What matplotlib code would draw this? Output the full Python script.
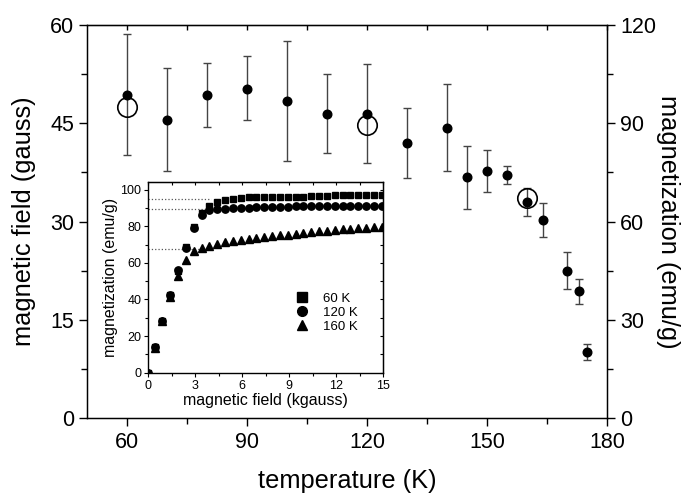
import matplotlib
matplotlib.use('Agg')
import matplotlib.pyplot as plt
from matplotlib.ticker import MultipleLocator
from matplotlib.lines import Line2D

plt.rcParams['font.family'] = ['Liberation Sans', 'DejaVu Sans']

# main panel: field vs temperature (mean, upper and lower bound of error bar)
temps = [60, 70, 80, 90, 100, 110, 120, 130, 140, 145, 150, 155, 160, 164, 170, 173, 175]
field = [49.3, 45.5, 49.3, 50.3, 48.4, 46.4, 46.4, 42.0, 44.3, 36.8, 37.8, 37.1, 33.0, 30.3, 22.5, 19.4, 10.1]
field_hi = [58.7, 53.4, 54.2, 55.2, 57.6, 52.6, 54.0, 47.4, 51.0, 41.6, 41.0, 38.5, 35.2, 32.9, 25.3, 21.3, 11.3]
field_lo = [40.1, 37.7, 44.5, 45.5, 39.3, 40.5, 38.9, 36.6, 37.7, 31.9, 34.5, 35.8, 30.8, 27.7, 19.8, 17.5, 8.9]

# saturation magnetization (right axis, open circles)
sat_temps = [60, 120, 160]
sat_mag = [95.0, 89.5, 67.3]

# inset: magnetization curves
h_field = [0, 0.4, 0.9, 1.4, 1.9, 2.4, 2.9, 3.4, 3.9, 4.4, 4.9, 5.4, 5.9, 6.4, 6.9, 7.4,
           7.9, 8.4, 8.9, 9.4, 9.9, 10.4, 10.9, 11.4, 11.9, 12.4, 12.9, 13.4, 13.9, 14.4, 14.9]
m_60 = [0, 14, 28, 42.5, 55.5, 68.5, 79.5, 87.5, 91.0, 93.3, 94.2, 95.1, 95.5, 95.8, 96.0, 96.0,
        96.0, 96.0, 96.0, 96.2, 96.2, 96.3, 96.3, 96.5, 97.0, 97.0, 97.0, 97.0, 97.0, 97.0, 97.0]
m_120 = [0, 14, 28, 42.3, 56.0, 68.2, 79.0, 86.2, 88.7, 89.5, 89.5, 89.7, 90.0, 90.2, 90.3, 90.4,
         90.5, 90.5, 90.6, 91.2, 91.0, 90.8, 90.8, 90.8, 90.8, 90.8, 90.8, 90.8, 90.8, 90.8, 90.8]
m_160 = [0, 13.5, 28, 41.5, 53.0, 61.8, 66.3, 68.3, 69.4, 70.5, 71.5, 72.2, 72.5, 73.1, 73.6, 74.0,
         74.5, 75.0, 75.4, 75.8, 76.3, 76.7, 77.2, 77.6, 78.0, 78.3, 78.6, 78.9, 79.2, 79.5, 79.6]
# extrapolation lines (end field, level)
extrap_end = [4.0, 3.6, 3.4]
labels = ['60 K', '120 K', '160 K']

fig = plt.figure(figsize=(6.84, 4.93), dpi=100)
ax = fig.add_axes([0.1277, 0.1515, 0.7597, 0.7978])

lo_err = [f - l for f, l in zip(field, field_lo)]
hi_err = [h - f for f, h in zip(field, field_hi)]
ax.errorbar(temps, field, yerr=[lo_err, hi_err], fmt='o', color='black', ms=6.2,
            ecolor='#444444', elinewidth=1.0, capsize=3, capthick=1.0)

ax.set_xlim(50, 180)
ax.set_ylim(0, 60)
ax.xaxis.set_major_locator(MultipleLocator(30))
ax.xaxis.set_minor_locator(MultipleLocator(15))
ax.yaxis.set_major_locator(MultipleLocator(15))
ax.yaxis.set_minor_locator(MultipleLocator(7.5))
ax.tick_params(which='both', direction='out', width=1, labelsize=15.5)
ax.tick_params(which='major', length=6)
ax.tick_params(which='minor', length=4.5)
ax.set_xlabel('temperature (K)', fontsize=18.3, labelpad=12)
ax.set_ylabel('magnetic field (gauss)', fontsize=18.3, labelpad=10)
for s in ax.spines.values():
    s.set_linewidth(1.0)

top = ax.secondary_xaxis('top')
top.xaxis.set_major_locator(MultipleLocator(30))
top.xaxis.set_minor_locator(MultipleLocator(15))
top.tick_params(which='both', direction='in', labeltop=False, width=1, length=3.5)

ax2 = ax.twinx()
ax2.plot(sat_temps, sat_mag, 'o', mfc='none', mec='black', ms=14, mew=1.2)
ax2.set_ylim(0, 120)
ax2.yaxis.set_major_locator(MultipleLocator(30))
ax2.yaxis.set_minor_locator(MultipleLocator(15))
ax2.tick_params(which='both', direction='out', width=1, labelsize=15.5)
ax2.tick_params(which='major', length=6)
ax2.tick_params(which='minor', length=4.5)
ax2.set_ylabel('magnetization (emu/g)', fontsize=18.3, rotation=270, va='center')
ax2.yaxis.set_label_coords(1.117, 0.5)

# inset
axin = fig.add_axes([0.2168, 0.244, 0.3436, 0.3862])
axin.set_facecolor('white')
for x_end, lvl in zip(extrap_end, sat_mag):
    axin.plot([0, x_end], [lvl, lvl], ':', color='#555555', lw=0.9)
axin.plot(h_field, m_160, '^', color='black', ms=5.5, ls='none')
axin.plot(h_field, m_120, 'o', color='black', ms=5.3, ls='none')
axin.plot(h_field, m_60, 's', color='black', ms=4.8, ls='none')

axin.set_xlim(0, 15)
axin.set_ylim(0, 104)
axin.xaxis.set_major_locator(MultipleLocator(3))
axin.xaxis.set_minor_locator(MultipleLocator(1.5))
axin.yaxis.set_major_locator(MultipleLocator(20))
axin.yaxis.set_minor_locator(MultipleLocator(10))
axin.tick_params(which='both', direction='out', width=0.8, labelsize=9, pad=2)
axin.tick_params(which='major', length=3)
axin.tick_params(which='minor', length=2)
axin.set_xlabel('magnetic field (kgauss)', fontsize=11.5, labelpad=1)
axin.set_ylabel('magnetization (emu/g)', fontsize=11.5, labelpad=2)
for s in axin.spines.values():
    s.set_linewidth(1.0)

tin = axin.secondary_xaxis('top')
tin.xaxis.set_major_locator(MultipleLocator(3))
tin.xaxis.set_minor_locator(MultipleLocator(1.5))
tin.tick_params(which='both', direction='in', labeltop=False, width=0.8, length=2.5)
rin = axin.secondary_yaxis('right')
rin.yaxis.set_major_locator(MultipleLocator(20))
rin.yaxis.set_minor_locator(MultipleLocator(10))
rin.tick_params(which='both', direction='in', labelright=False, width=0.8, length=2.5)

handles = [Line2D([], [], marker=m, color='black', ls='none', ms=7) for m in ['s', 'o', '^']]
axin.legend(handles, labels, loc='lower left', bbox_to_anchor=(0.56, 0.16), frameon=False,
            fontsize=9.5, handletextpad=0.6, labelspacing=0.15, borderpad=0.2)

fig.savefig('out.png', dpi=100)
